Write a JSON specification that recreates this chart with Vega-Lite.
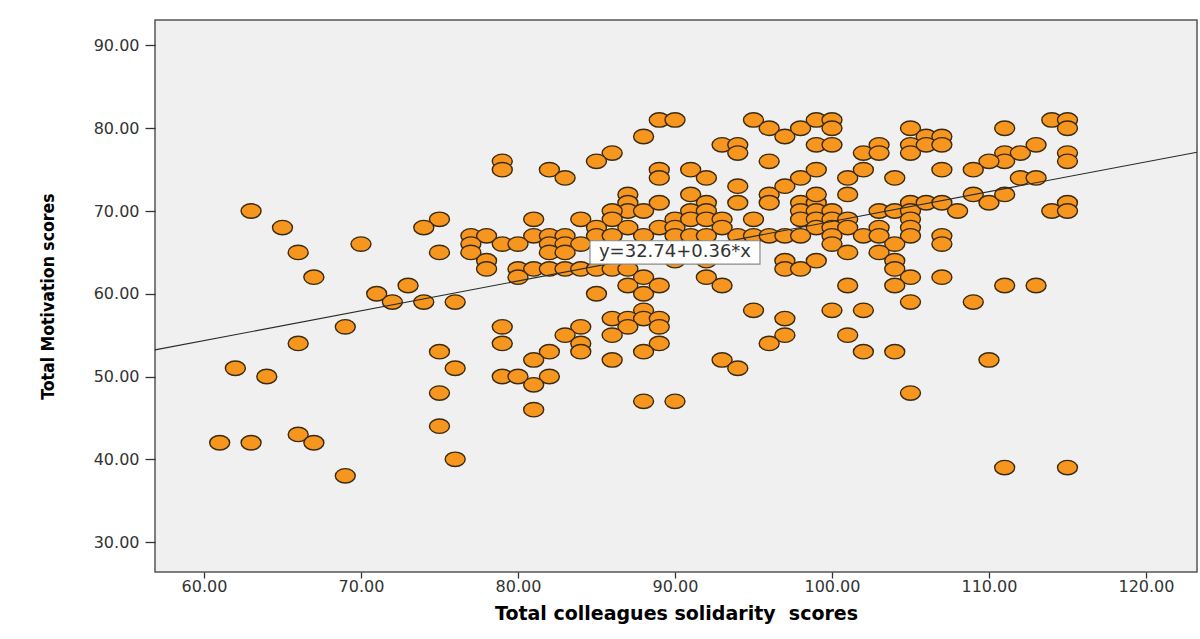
{
  "$schema": "https://vega.github.io/schema/vega-lite/v6.json",
  "width": 1042,
  "height": 552,
  "autosize": {"type": "none"},
  "padding": {"left": 155, "top": 20, "right": 3, "bottom": 67},
  "background": "white",
  "config": {
    "view": {"fill": "#f0f0f0", "stroke": "#555555", "strokeWidth": 1.5},
    "axis": {
      "grid": false, "domain": false, "ticks": true,
      "tickColor": "#333333", "tickWidth": 1.3,
      "labelFont": "DejaVu Sans", "labelFontSize": 16, "labelColor": "#333333",
      "titleColor": "#000000"
    }
  },
  "datasets": {
    "points": [
      {"solidarity":63,"motivation":70},{"solidarity":65,"motivation":68},{"solidarity":66,"motivation":65},{"solidarity":67,"motivation":62},{"solidarity":66,"motivation":54},{"solidarity":62,"motivation":51},{"solidarity":64,"motivation":50},{"solidarity":61,"motivation":42},{"solidarity":63,"motivation":42},{"solidarity":66,"motivation":43},{"solidarity":67,"motivation":42},{"solidarity":69,"motivation":38},
      {"solidarity":79,"motivation":76},{"solidarity":79,"motivation":75},{"solidarity":75,"motivation":69},{"solidarity":74,"motivation":68},{"solidarity":70,"motivation":66},{"solidarity":75,"motivation":65},{"solidarity":77,"motivation":67},{"solidarity":78,"motivation":67},{"solidarity":77,"motivation":66},{"solidarity":79,"motivation":66},{"solidarity":77,"motivation":65},{"solidarity":78,"motivation":64},{"solidarity":78,"motivation":63},{"solidarity":73,"motivation":61},{"solidarity":71,"motivation":60},{"solidarity":72,"motivation":59},{"solidarity":74,"motivation":59},{"solidarity":76,"motivation":59},{"solidarity":69,"motivation":56},{"solidarity":79,"motivation":56},{"solidarity":79,"motivation":54},{"solidarity":75,"motivation":53},{"solidarity":76,"motivation":51},{"solidarity":79,"motivation":50},{"solidarity":75,"motivation":48},{"solidarity":75,"motivation":44},{"solidarity":76,"motivation":40},
      {"solidarity":89,"motivation":81},{"solidarity":90,"motivation":81},{"solidarity":88,"motivation":79},{"solidarity":86,"motivation":77},{"solidarity":85,"motivation":76},{"solidarity":82,"motivation":75},{"solidarity":83,"motivation":74},{"solidarity":89,"motivation":75},{"solidarity":89,"motivation":74},{"solidarity":87,"motivation":72},{"solidarity":87,"motivation":71},{"solidarity":87,"motivation":70},{"solidarity":86,"motivation":70},{"solidarity":88,"motivation":70},{"solidarity":89,"motivation":71},{"solidarity":81,"motivation":69},{"solidarity":84,"motivation":69},{"solidarity":86,"motivation":69},{"solidarity":87,"motivation":68},{"solidarity":85,"motivation":68},{"solidarity":89,"motivation":68},{"solidarity":90,"motivation":69},{"solidarity":90,"motivation":68},{"solidarity":81,"motivation":67},{"solidarity":82,"motivation":67},{"solidarity":83,"motivation":67},{"solidarity":85,"motivation":67},{"solidarity":86,"motivation":67},{"solidarity":88,"motivation":67},{"solidarity":90,"motivation":67},{"solidarity":80,"motivation":66},{"solidarity":82,"motivation":66},{"solidarity":83,"motivation":66},{"solidarity":84,"motivation":66},{"solidarity":82,"motivation":65},{"solidarity":83,"motivation":65},{"solidarity":80,"motivation":63},{"solidarity":81,"motivation":63},{"solidarity":82,"motivation":63},{"solidarity":83,"motivation":63},{"solidarity":84,"motivation":63},{"solidarity":85,"motivation":63},{"solidarity":86,"motivation":63},{"solidarity":87,"motivation":63},{"solidarity":80,"motivation":62},{"solidarity":87,"motivation":61},{"solidarity":88,"motivation":62},{"solidarity":88,"motivation":60},{"solidarity":89,"motivation":61},{"solidarity":85,"motivation":60},{"solidarity":88,"motivation":58},{"solidarity":86,"motivation":57},{"solidarity":87,"motivation":57},{"solidarity":88,"motivation":57},{"solidarity":89,"motivation":57},{"solidarity":87,"motivation":56},{"solidarity":89,"motivation":56},{"solidarity":86,"motivation":55},{"solidarity":89,"motivation":54},{"solidarity":88,"motivation":53},{"solidarity":84,"motivation":56},{"solidarity":83,"motivation":55},{"solidarity":84,"motivation":54},{"solidarity":84,"motivation":53},{"solidarity":86,"motivation":52},{"solidarity":82,"motivation":53},{"solidarity":81,"motivation":52},{"solidarity":80,"motivation":50},{"solidarity":82,"motivation":50},{"solidarity":81,"motivation":49},{"solidarity":81,"motivation":46},{"solidarity":88,"motivation":47},{"solidarity":90,"motivation":47},{"solidarity":90,"motivation":64},{"solidarity":88,"motivation":65},{"solidarity":91,"motivation":66},
      {"solidarity":95,"motivation":81},{"solidarity":96,"motivation":80},{"solidarity":97,"motivation":79},{"solidarity":98,"motivation":80},{"solidarity":99,"motivation":81},{"solidarity":100,"motivation":81},{"solidarity":100,"motivation":80},{"solidarity":93,"motivation":78},{"solidarity":94,"motivation":78},{"solidarity":94,"motivation":77},{"solidarity":99,"motivation":78},{"solidarity":100,"motivation":78},{"solidarity":96,"motivation":76},{"solidarity":91,"motivation":75},{"solidarity":92,"motivation":74},{"solidarity":94,"motivation":73},{"solidarity":96,"motivation":72},{"solidarity":96,"motivation":71},{"solidarity":97,"motivation":73},{"solidarity":98,"motivation":74},{"solidarity":99,"motivation":75},{"solidarity":101,"motivation":74},{"solidarity":91,"motivation":72},{"solidarity":92,"motivation":71},{"solidarity":94,"motivation":71},{"solidarity":101,"motivation":72},{"solidarity":91,"motivation":70},{"solidarity":92,"motivation":70},{"solidarity":91,"motivation":69},{"solidarity":92,"motivation":69},{"solidarity":93,"motivation":69},{"solidarity":93,"motivation":68},{"solidarity":91,"motivation":67},{"solidarity":92,"motivation":67},{"solidarity":95,"motivation":69},{"solidarity":98,"motivation":71},{"solidarity":99,"motivation":71},{"solidarity":98,"motivation":70},{"solidarity":99,"motivation":70},{"solidarity":98,"motivation":69},{"solidarity":99,"motivation":69},{"solidarity":99,"motivation":68},{"solidarity":99,"motivation":72},{"solidarity":100,"motivation":70},{"solidarity":100,"motivation":69},{"solidarity":100,"motivation":68},{"solidarity":101,"motivation":69},{"solidarity":101,"motivation":68},{"solidarity":94,"motivation":67},{"solidarity":95,"motivation":67},{"solidarity":96,"motivation":67},{"solidarity":97,"motivation":67},{"solidarity":98,"motivation":67},{"solidarity":100,"motivation":67},{"solidarity":100,"motivation":66},{"solidarity":101,"motivation":65},{"solidarity":97,"motivation":64},{"solidarity":97,"motivation":63},{"solidarity":98,"motivation":63},{"solidarity":99,"motivation":64},{"solidarity":92,"motivation":64},{"solidarity":92,"motivation":62},{"solidarity":93,"motivation":61},{"solidarity":101,"motivation":61},{"solidarity":95,"motivation":58},{"solidarity":97,"motivation":57},{"solidarity":97,"motivation":55},{"solidarity":96,"motivation":54},{"solidarity":100,"motivation":58},{"solidarity":101,"motivation":55},{"solidarity":93,"motivation":52},{"solidarity":94,"motivation":51},
      {"solidarity":102,"motivation":77},{"solidarity":102,"motivation":75},{"solidarity":102,"motivation":67},{"solidarity":102,"motivation":58},{"solidarity":102,"motivation":53},{"solidarity":103,"motivation":78},{"solidarity":103,"motivation":77},{"solidarity":105,"motivation":80},{"solidarity":106,"motivation":79},{"solidarity":107,"motivation":79},{"solidarity":105,"motivation":78},{"solidarity":105,"motivation":77},{"solidarity":106,"motivation":78},{"solidarity":107,"motivation":78},{"solidarity":111,"motivation":80},{"solidarity":111,"motivation":77},{"solidarity":111,"motivation":76},{"solidarity":112,"motivation":77},{"solidarity":110,"motivation":76},{"solidarity":113,"motivation":78},{"solidarity":104,"motivation":74},{"solidarity":107,"motivation":75},{"solidarity":109,"motivation":75},{"solidarity":112,"motivation":74},{"solidarity":113,"motivation":74},{"solidarity":109,"motivation":72},{"solidarity":110,"motivation":71},{"solidarity":111,"motivation":72},{"solidarity":103,"motivation":70},{"solidarity":104,"motivation":70},{"solidarity":105,"motivation":71},{"solidarity":105,"motivation":70},{"solidarity":106,"motivation":71},{"solidarity":107,"motivation":71},{"solidarity":108,"motivation":70},{"solidarity":105,"motivation":69},{"solidarity":105,"motivation":68},{"solidarity":105,"motivation":67},{"solidarity":103,"motivation":68},{"solidarity":103,"motivation":67},{"solidarity":104,"motivation":66},{"solidarity":107,"motivation":67},{"solidarity":107,"motivation":66},{"solidarity":103,"motivation":65},{"solidarity":104,"motivation":64},{"solidarity":104,"motivation":63},{"solidarity":105,"motivation":62},{"solidarity":107,"motivation":62},{"solidarity":104,"motivation":61},{"solidarity":105,"motivation":59},{"solidarity":109,"motivation":59},{"solidarity":111,"motivation":61},{"solidarity":113,"motivation":61},{"solidarity":104,"motivation":53},{"solidarity":110,"motivation":52},{"solidarity":105,"motivation":48},{"solidarity":111,"motivation":39},{"solidarity":114,"motivation":81},{"solidarity":115,"motivation":81},{"solidarity":115,"motivation":80},{"solidarity":115,"motivation":77},{"solidarity":115,"motivation":76},{"solidarity":115,"motivation":71},{"solidarity":114,"motivation":70},{"solidarity":115,"motivation":70},{"solidarity":115,"motivation":39}
    ],
    "fit": [
      {"solidarity": 56.88, "motivation": 53.22},
      {"solidarity": 123.25, "motivation": 77.11}
    ],
    "label": [
      {"solidarity": 90.0, "motivation": 65.0, "text": "y=32.74+0.36*x"}
    ]
  },
  "layer": [
    {
      "data": {"name": "points"},
      "mark": {
        "type": "point",
        "shape": "M -1 0 A 1 0.72 0 1 0 1 0 A 1 0.72 0 1 0 -1 0 Z",
        "filled": true, "fill": "#f7961e", "stroke": "#3a2a10",
        "strokeWidth": 1.4, "size": 400, "opacity": 1
      },
      "encoding": {
        "x": {
          "field": "solidarity", "type": "quantitative",
          "scale": {"domain": [56.88, 123.25], "nice": false, "zero": false},
          "axis": {
            "values": [60, 70, 80, 90, 100, 110, 120], "format": ".2f",
            "tickSize": 6, "labelPadding": 0,
            "title": "Total colleagues solidarity\u00a0 scores",
            "titleFont": "DejaVu Sans", "titleFontSize": 19, "titleFontWeight": "bold",
            "titlePadding": 10
          }
        },
        "y": {
          "field": "motivation", "type": "quantitative",
          "scale": {"domain": [26.38, 93.08], "nice": false, "zero": false},
          "axis": {
            "values": [30, 40, 50, 60, 70, 80, 90], "format": ".2f",
            "tickSize": 10, "labelPadding": 6,
            "title": "Total Motivation scores",
            "titleFont": "'DejaVu Sans Condensed', sans-serif",
            "titleFontSize": 17.5, "titleFontWeight": "bold",
            "titlePadding": 36
          }
        }
      }
    },
    {
      "data": {"name": "fit"},
      "mark": {"type": "line", "color": "#2a2a2a", "strokeWidth": 1.1},
      "encoding": {
        "x": {"field": "solidarity", "type": "quantitative"},
        "y": {"field": "motivation", "type": "quantitative"}
      }
    },
    {
      "data": {"name": "label"},
      "mark": {
        "type": "point",
        "shape": "M -1 -0.137 H 1 V 0.137 H -1 Z",
        "filled": true, "fill": "#ffffff", "stroke": "#8a8a8a",
        "strokeWidth": 1.2, "size": 28900, "opacity": 1
      },
      "encoding": {
        "x": {"field": "solidarity", "type": "quantitative"},
        "y": {"field": "motivation", "type": "quantitative"}
      }
    },
    {
      "data": {"name": "label"},
      "mark": {
        "type": "text", "font": "DejaVu Sans", "fontSize": 18,
        "color": "#333333", "align": "center", "baseline": "middle"
      },
      "encoding": {
        "x": {"field": "solidarity", "type": "quantitative"},
        "y": {"field": "motivation", "type": "quantitative"},
        "text": {"field": "text"}
      }
    }
  ]
}
